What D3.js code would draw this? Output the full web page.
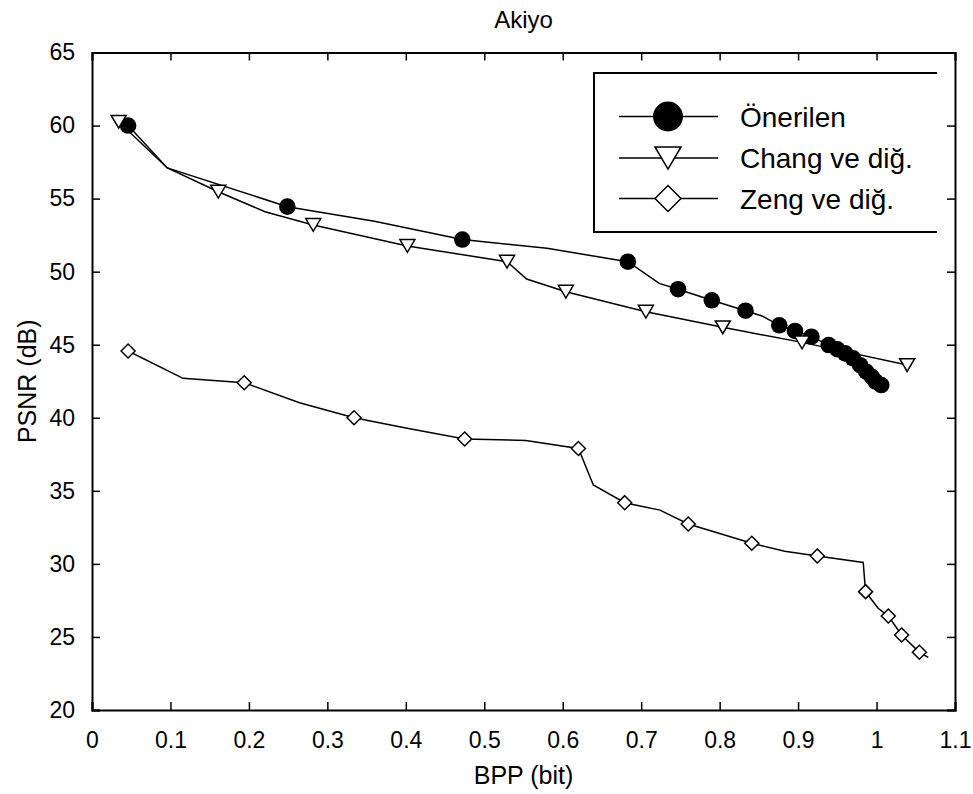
<!DOCTYPE html>
<html>
<head>
<meta charset="utf-8">
<script src="https://cdn.jsdelivr.net/npm/d3@7"></script>
<style>
  body { margin: 0; background: #fff; }
  text { font-family: "Liberation Sans", Arial, sans-serif; }
</style>
</head>
<body>
<div id="chart"></div>
<script>
// Data: [bpp, psnr, hasMarker]
const oneriPts = [
  [0.046, 60.0, 1], [0.096, 57.1, 0], [0.249, 54.45, 1], [0.36, 53.45, 0],
  [0.472, 52.2, 1], [0.58, 51.6, 0], [0.683, 50.68, 1], [0.723, 49.2, 0],
  [0.747, 48.8, 1], [0.790, 48.04, 1], [0.833, 47.33, 1], [0.854, 46.97, 0],
  [0.876, 46.33, 1], [0.896, 45.94, 1], [0.917, 45.55, 1], [0.939, 44.98, 1],
  [0.950, 44.69, 1], [0.960, 44.41, 1], [0.970, 44.07, 1], [0.979, 43.6, 1],
  [0.987, 43.15, 1], [0.994, 42.8, 1], [0.999, 42.47, 1], [1.006, 42.24, 1]
];
const changPts = [
  [0.034, 60.26, 1], [0.096, 57.1, 0], [0.161, 55.47, 1], [0.2205, 54.1, 0],
  [0.282, 53.2, 1], [0.402, 51.76, 1], [0.529, 50.68, 1], [0.554, 49.5, 0],
  [0.604, 48.63, 1], [0.706, 47.26, 1], [0.804, 46.19, 1], [0.905, 45.16, 1],
  [1.039, 43.61, 1]
];
const zengPts = [
  [0.046, 44.57, 1], [0.116, 42.7, 0], [0.194, 42.4, 1], [0.2645, 41.03, 0],
  [0.334, 40.0, 1], [0.40, 39.3, 0], [0.475, 38.55, 1], [0.553, 38.45, 0],
  [0.62, 37.9, 1], [0.639, 35.4, 0], [0.679, 34.19, 1], [0.724, 33.68, 0],
  [0.760, 32.73, 1], [0.841, 31.41, 1], [0.883, 30.87, 0], [0.9245, 30.54, 1],
  [0.983, 30.1, 0], [0.986, 28.1, 1], [1.002, 26.96, 0], [1.015, 26.43, 1],
  [1.032, 25.13, 1], [1.0546, 23.95, 1], [1.066, 23.6, 0]
];
const seriesNames = ["Önerilen", "Chang ve diğ.", "Zeng ve diğ."];
const xTicks = [0, 0.1, 0.2, 0.3, 0.4, 0.5, 0.6, 0.7, 0.8, 0.9, 1, 1.1];
const yTicks = [20, 25, 30, 35, 40, 45, 50, 55, 60, 65];

const width = 973, height = 794;
const margin = { top: 52.5, right: 18, bottom: 84, left: 92 };

const svg = d3.select("#chart").append("svg")
  .attr("width", width)
  .attr("height", height);

const x = d3.scaleLinear().domain([0, 1.1]).range([margin.left, width - margin.right]);
const y = d3.scaleLinear().domain([20, 65]).range([height - margin.bottom, margin.top]);

// Marker shapes
function drawMarker(g, kind, cx, cy, s) {
  if (kind === "circle") {
    g.append("circle").attr("cx", cx).attr("cy", cy).attr("r", s)
      .attr("fill", "#000");
  } else if (kind === "tri") {
    const h = s * 0.85;
    g.append("path")
      .attr("d", `M${cx - s},${cy - h}L${cx + s},${cy - h}L${cx},${cy + h}Z`)
      .attr("fill", "#fff").attr("stroke", "#000").attr("stroke-width", 1.5);
  } else {
    g.append("path")
      .attr("d", `M${cx},${cy - s}L${cx + s},${cy}L${cx},${cy + s}L${cx - s},${cy}Z`)
      .attr("fill", "#fff").attr("stroke", "#000").attr("stroke-width", 1.5);
  }
}

const series = [
  { name: seriesNames[0], pts: oneriPts, kind: "circle", size: 8.3 },
  { name: seriesNames[1], pts: changPts, kind: "tri", size: 7.5 },
  { name: seriesNames[2], pts: zengPts, kind: "diamond", size: 7 }
];

const line = d3.line().x(d => x(d[0])).y(d => y(d[1]));

const plot = svg.append("g");
series.forEach(s => {
  plot.append("path")
    .datum(s.pts)
    .attr("d", line)
    .attr("fill", "none")
    .attr("stroke", "#000")
    .attr("stroke-width", 1.5);
});
series.forEach(s => {
  const g = plot.append("g");
  s.pts.filter(d => d[2]).forEach(d => drawMarker(g, s.kind, x(d[0]), y(d[1]), s.size));
});

// Axes, ticks inward on all four sides
const fmtX = d => d3.format("~g")(d);
svg.append("g")
  .attr("transform", `translate(0,${y(20)})`)
  .call(d3.axisBottom(x).tickValues(xTicks).tickSize(-8).tickPadding(22).tickFormat(fmtX));
svg.append("g")
  .attr("transform", `translate(0,${y(65)})`)
  .call(d3.axisTop(x).tickValues(xTicks).tickSize(-8).tickFormat(""));
svg.append("g")
  .attr("transform", `translate(${x(0)},0)`)
  .call(d3.axisLeft(y).tickValues(yTicks).tickSize(-8).tickPadding(17));
svg.append("g")
  .attr("transform", `translate(${x(1.1)},0)`)
  .call(d3.axisRight(y).tickValues(yTicks).tickSize(-8).tickFormat(""));

svg.selectAll(".domain").attr("stroke-width", 2);
svg.selectAll(".tick line").attr("stroke-width", 1.5);
svg.selectAll(".tick text").attr("font-size", 23).attr("fill", "#000")
  .attr("font-family", "'Liberation Sans', Arial, sans-serif");

// Titles
svg.append("text")
  .attr("x", (x(0) + x(1.1)) / 2).attr("y", 28)
  .attr("text-anchor", "middle").attr("font-size", 24)
  .text("Akiyo");
svg.append("text")
  .attr("x", (x(0) + x(1.1)) / 2).attr("y", 784)
  .attr("text-anchor", "middle").attr("font-size", 25)
  .text("BPP (bit)");
svg.append("text")
  .attr("transform", `translate(36,${(y(20) + y(65)) / 2}) rotate(-90)`)
  .attr("text-anchor", "middle").attr("font-size", 25)
  .text("PSNR (dB)");

// Legend (right side open, as in the picture)
const lg = svg.append("g");
const lx0 = 594, lx1 = 937, ly0 = 73, ly1 = 232;
lg.append("path")
  .attr("d", `M${lx1},${ly0}L${lx0},${ly0}L${lx0},${ly1}L${lx1},${ly1}`)
  .attr("fill", "none").attr("stroke", "#000").attr("stroke-width", 2);
const rowY = [116.5, 158, 198.5];
const legendSizes = [15, 13, 13];
series.forEach((s, i) => {
  const ry = rowY[i];
  lg.append("line")
    .attr("x1", 619).attr("x2", 718).attr("y1", ry).attr("y2", ry)
    .attr("stroke", "#000").attr("stroke-width", 1.5);
  drawMarker(lg, s.kind, 668, ry, legendSizes[i]);
  lg.append("text")
    .attr("x", 740).attr("y", ry + 10)
    .attr("font-size", 28)
    .text(s.name);
});
</script>
</body>
</html>
